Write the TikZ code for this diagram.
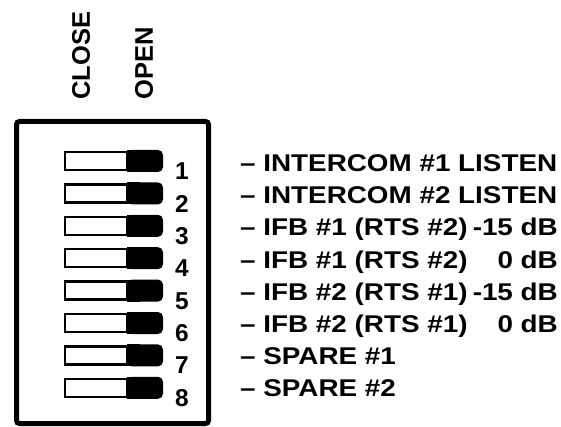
\documentclass[tikz,border=0pt]{standalone}
\usepackage{fontspec}
\setmainfont{Liberation Sans}
\newfontfamily\lblfont{Liberation Sans Bold}[FakeStretch=1.15]
\newfontfamily\hdfont{Liberation Sans Bold}
\begin{document}
\begin{tikzpicture}[x=1pt,y=-1pt,
  lbl/.style={font=\lblfont\fontsize{24.2}{26}\selectfont, inner sep=0pt, anchor=base west},
  lblr/.style={font=\lblfont\fontsize{24.2}{26}\selectfont, inner sep=0pt, anchor=base east},
  num/.style={font=\hdfont\fontsize{24.4}{26}\selectfont, inner sep=0pt, anchor=base},
  head/.style={font=\hdfont\fontsize{25.5}{27}\selectfont, inner sep=0pt, anchor=west, rotate=90},
  frame/.style={draw, line width=5pt, rounded corners=3pt, inner sep=0pt},
  offpart/.style={draw, fill=white, line width=2.5pt, inner sep=0pt, minimum width=62pt, minimum height=18pt},
  onpart/.style={fill=black, rounded corners=5pt, inner sep=0pt, minimum width=36pt, minimum height=22pt}
]
\useasboundingbox (0,0) rectangle (561,427);
\node[head] (close) at (81,100) {CLOSE};
\node[head] (open) at (144,100) {OPEN};
\node[frame, minimum width=192pt, minimum height=302pt] (box) at (112.5,272.5) {};
\foreach \i in {1,...,8}{
  \pgfmathsetmacro\c{161+32.4*(\i-1)}
  \pgfmathsetmacro\b{180+32.3*(\i-1)}
  \node[onpart] (on\i) at (145,\c) {};
  \fill (127,\c-11) rectangle (140,\c+11);
  \node[offpart] (off\i) at (96,\c) {};
  \node[num] (n\i) at (182,\b) {\i};
}
\node[lbl] (l1) at (240,172) {– INTERCOM \#1 LISTEN};
\node[lbl] (l2) at (240,204) {– INTERCOM \#2 LISTEN};
\node[lbl] (l3) at (240,236) {– IFB \#1 (RTS \#2)};
\node[lblr] (r3) at (558,236) {-15 dB};
\node[lbl] (l4) at (240,268) {– IFB \#1 (RTS \#2)};
\node[lblr] (r4) at (558,268) {0 dB};
\node[lbl] (l5) at (240,300) {– IFB \#2 (RTS \#1)};
\node[lblr] (r5) at (558,300) {-15 dB};
\node[lbl] (l6) at (240,332) {– IFB \#2 (RTS \#1)};
\node[lblr] (r6) at (558,332) {0 dB};
\node[lbl] (l7) at (240,364) {– SPARE \#1};
\node[lbl] (l8) at (240,396) {– SPARE \#2};
\end{tikzpicture}
\end{document}
